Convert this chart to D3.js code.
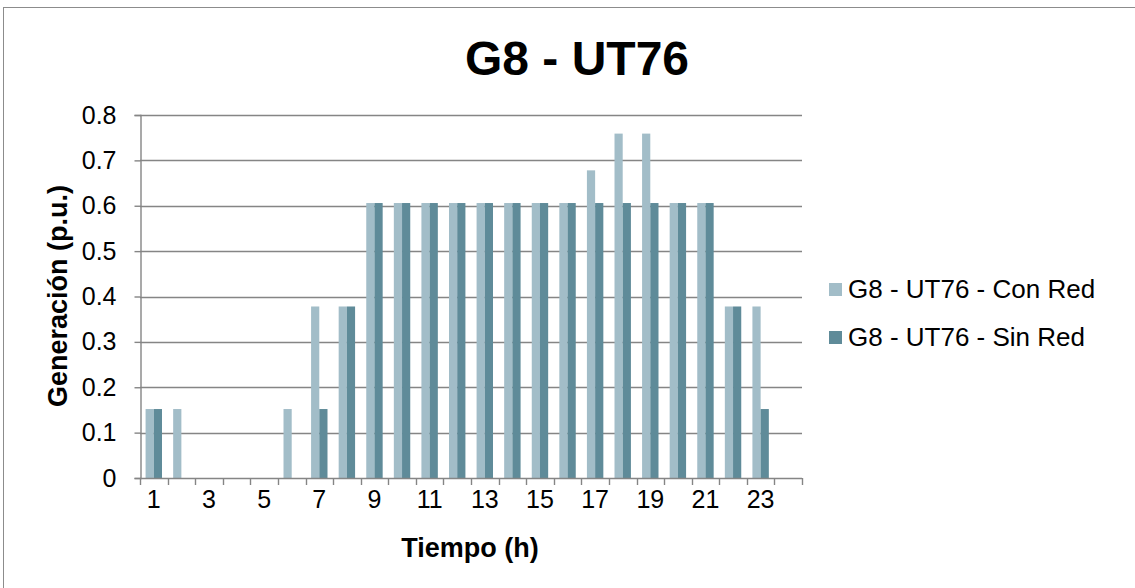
<!DOCTYPE html>
<html>
<head>
<meta charset="utf-8">
<script src="https://cdn.jsdelivr.net/npm/d3@7"></script>
<style>
  html, body { margin: 0; padding: 0; background: #fff; }
  svg { display: block; font-family: "Liberation Sans", Arial, sans-serif; }
</style>
</head>
<body>
<svg id="chart" width="1135" height="588"></svg>
<script>
// Hourly generation of unit G8 - UT76, with and without network constraints
const hours = d3.range(1, 25);
const conRed = [0.152, 0.152, 0, 0, 0, 0.152, 0.378, 0.378, 0.606, 0.606, 0.606, 0.606,
                0.606, 0.606, 0.606, 0.606, 0.678, 0.759, 0.759, 0.606, 0.606, 0.378, 0.378, 0];
const sinRed = [0.152, 0, 0, 0, 0, 0, 0.152, 0.378, 0.606, 0.606, 0.606, 0.606,
                0.606, 0.606, 0.606, 0.606, 0.606, 0.606, 0.606, 0.606, 0.606, 0.378, 0.152, 0];
const seriesNames = ["G8 - UT76 - Con Red", "G8 - UT76 - Sin Red"];
const seriesColors = ["#a2bdc8", "#5f8b99"];
const yTicks = [0, 0.1, 0.2, 0.3, 0.4, 0.5, 0.6, 0.7, 0.8];
const xTickLabels = hours.filter(h => h % 2 === 1);

const svg = d3.select("#chart");
const plot = { left: 140, right: 802, top: 115, bottom: 478 };
const tickFont = 25;
const titleFont = 27;

// outer chart frame
svg.append("rect")
  .attr("x", 3.5).attr("y", 7.5).attr("width", 1200).attr("height", 700)
  .attr("fill", "none").attr("stroke", "#8c8c8c").attr("stroke-width", 1);

const x = d3.scaleBand().domain(hours).range([plot.left, plot.right]).paddingInner(0).paddingOuter(0);
const y = d3.scaleLinear().domain([0, 0.8]).range([plot.bottom, plot.top]);
const groupFrac = 0.595;
const xs = d3.scaleBand().domain([0, 1])
  .range([(x.bandwidth() * (1 - groupFrac)) / 2, x.bandwidth() * (1 + groupFrac) / 2]);

const gridColor = "#858585";

// horizontal gridlines
svg.append("g")
  .selectAll("line")
  .data(yTicks.filter(t => t > 0))
  .join("line")
  .attr("x1", plot.left).attr("x2", plot.right)
  .attr("y1", d => Math.round(y(d)) + 0.5).attr("y2", d => Math.round(y(d)) + 0.5)
  .attr("stroke", gridColor).attr("stroke-width", 1.4);

// bars
const seriesData = [conRed, sinRed];
seriesData.forEach((vals, si) => {
  svg.append("g")
    .selectAll("rect")
    .data(hours.map((h, i) => ({ h, v: vals[i] })))
    .join("rect")
    .attr("x", d => x(d.h) + xs(si))
    .attr("width", xs.bandwidth())
    .attr("y", d => y(d.v))
    .attr("height", d => y(0) - y(d.v))
    .attr("fill", seriesColors[si]);
});

// y axis
const yAxis = d3.axisLeft(y).tickValues(yTicks).tickSize(6).tickPadding(18)
  .tickFormat(d => d === 0 ? "0" : d3.format(".1f")(d));
const gy = svg.append("g").attr("transform", `translate(${plot.left + 0.5},0)`).call(yAxis);
gy.select(".domain").attr("stroke", gridColor).attr("stroke-width", 1.4);
gy.selectAll(".tick line").attr("stroke", gridColor).attr("stroke-width", 1.4);
gy.selectAll(".tick text").attr("font-size", tickFont).attr("fill", "#000")
  .attr("font-family", "Liberation Sans, Arial, sans-serif");

// x axis: tick marks at category boundaries, labels on odd hours
const boundaries = hours.map(h => x(h)).concat([plot.right]);
const gx = svg.append("g");
gx.append("line")
  .attr("x1", plot.left).attr("x2", plot.right)
  .attr("y1", plot.bottom + 0.5).attr("y2", plot.bottom + 0.5)
  .attr("stroke", gridColor).attr("stroke-width", 1.4);
gx.selectAll("line.tk")
  .data(boundaries)
  .join("line").attr("class", "tk")
  .attr("x1", d => Math.round(d) + 0.5).attr("x2", d => Math.round(d) + 0.5)
  .attr("y1", plot.bottom).attr("y2", plot.bottom + 7)
  .attr("stroke", gridColor).attr("stroke-width", 1.4);
gx.selectAll("text")
  .data(xTickLabels)
  .join("text")
  .attr("x", d => x(d) + x.bandwidth() / 2)
  .attr("y", 508)
  .attr("text-anchor", "middle")
  .attr("font-size", tickFont)
  .text(d => d);

// title and axis titles
svg.append("text")
  .attr("x", 577).attr("y", 75).attr("text-anchor", "middle")
  .attr("font-size", 48).attr("font-weight", "bold")
  .text("G8 - UT76");
svg.append("text")
  .attr("x", 470).attr("y", 557).attr("text-anchor", "middle")
  .attr("font-size", titleFont).attr("font-weight", "bold")
  .text("Tiempo (h)");
svg.append("text")
  .attr("transform", "translate(67,296) rotate(-90)")
  .attr("text-anchor", "middle")
  .attr("font-size", titleFont).attr("font-weight", "bold")
  .text("Generación (p.u.)");

// legend
const legend = svg.append("g").attr("transform", "translate(829,283)");
seriesNames.forEach((name, i) => {
  const row = legend.append("g").attr("transform", `translate(0,${i * 48})`);
  row.append("rect").attr("width", 13).attr("height", 13).attr("fill", seriesColors[i]);
  row.append("text").attr("x", 19).attr("y", 15).attr("font-size", 26).text(name);
});
</script>
</body>
</html>
